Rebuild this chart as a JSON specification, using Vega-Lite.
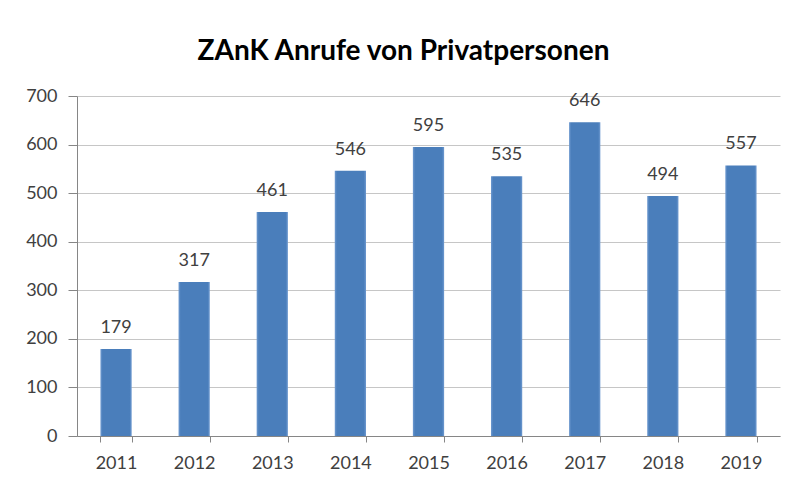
{
  "$schema": "https://vega.github.io/schema/vega-lite/v6.json",
  "width": 703,
  "height": 340,
  "autosize": {"type": "none"},
  "padding": {"left": 77, "top": 96, "right": 18, "bottom": 51},
  "background": "white",
  "title": {
    "text": "ZAnK Anrufe von Privatpersonen",
    "font": "Lato",
    "fontSize": 28,
    "fontWeight": "bold",
    "color": "#000000",
    "anchor": "middle",
    "frame": "group",
    "dx": -25,
    "offset": 21
  },
  "data": {
    "values": [
      {"year": "2011", "calls": 179},
      {"year": "2012", "calls": 317},
      {"year": "2013", "calls": 461},
      {"year": "2014", "calls": 546},
      {"year": "2015", "calls": 595},
      {"year": "2016", "calls": 535},
      {"year": "2017", "calls": 646},
      {"year": "2018", "calls": 494},
      {"year": "2019", "calls": 557}
    ]
  },
  "config": {
    "view": {"stroke": null},
    "axis": {
      "labelFont": "Lato",
      "labelFontSize": 18,
      "labelColor": "#404040",
      "domainColor": "#868686",
      "tickColor": "#868686",
      "gridColor": "#c6c6c6"
    }
  },
  "encoding": {
    "x": {
      "field": "year",
      "type": "ordinal",
      "scale": {"paddingInner": 0.6, "paddingOuter": 0.3},
      "axis": {
        "title": null,
        "labelAngle": 0,
        "tickBand": "extent",
        "tickSize": 6,
        "labelPadding": 12,
        "grid": false
      }
    },
    "y": {
      "field": "calls",
      "type": "quantitative",
      "scale": {"domain": [0, 700], "nice": false},
      "axis": {
        "title": null,
        "values": [0, 100, 200, 300, 400, 500, 600, 700],
        "tickSize": 9,
        "labelPadding": 11,
        "grid": true
      }
    }
  },
  "layer": [
    {
      "mark": {
        "type": "bar",
        "color": {
          "x1": 0, "y1": 0, "x2": 1, "y2": 0,
          "gradient": "linear",
          "stops": [
            {"offset": 0, "color": "#6f9ad0"},
            {"offset": 0.07, "color": "#4a7ebb"},
            {"offset": 0.93, "color": "#4a7ebb"},
            {"offset": 1, "color": "#6f9ad0"}
          ]
        }
      }
    },
    {
      "mark": {
        "type": "text",
        "baseline": "alphabetic",
        "dy": -16,
        "font": "Lato",
        "fontSize": 18,
        "color": "#404040"
      },
      "encoding": {"text": {"field": "calls", "type": "quantitative"}}
    }
  ]
}
